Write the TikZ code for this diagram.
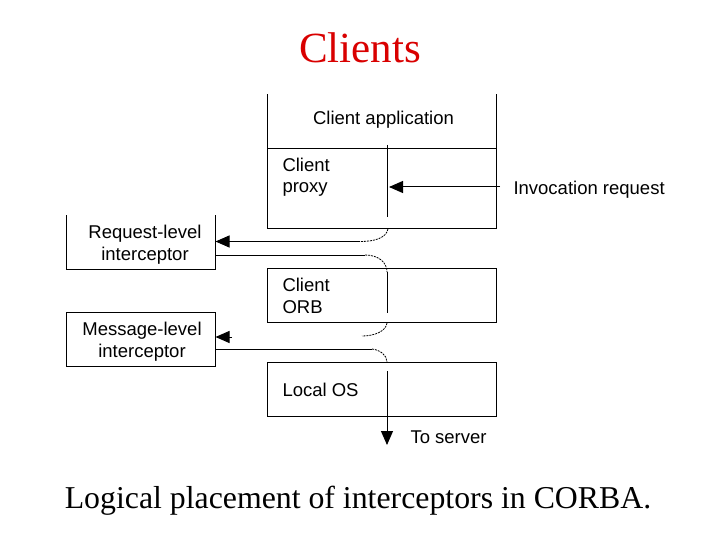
\documentclass[tikz,border=0pt]{standalone}
\usepackage{fontspec}
\setmainfont{Liberation Serif}
\newfontfamily\diagfont{Liberation Sans}
\usetikzlibrary{arrows.meta,calc}
\begin{document}
\begin{tikzpicture}[x=1pt,y=-1pt,
  line width=1pt,
  lbl/.style={font=\diagfont\fontsize{18.5}{21.5}\selectfont, inner sep=0pt},
  area/.style={draw=none, inner sep=0pt},
  boxline/.style={draw=black, line width=1pt},
  arr/.style={-{Triangle[length=14pt,width=12pt]}, line width=1pt},
  hop/.style={line width=0.8pt, dash pattern=on 2pt off 1pt}
]
\useasboundingbox (0,0) rectangle (720,540);
\fill[white] (0,0) rectangle (720,540);

% title and caption
\node[font=\fontsize{43}{50}\selectfont, text=red!85!black, anchor=base, inner sep=0pt] (title) at (360,63) {Clients};
\node[font=\fontsize{31.8}{38}\selectfont, anchor=base, inner sep=0pt] (caption) at (358,508) {Logical placement of interceptors in CORBA.};

% main column areas
\node[area, minimum width=228pt, minimum height=53pt] (app) at (382,121.5) {};
\node[area, minimum width=228pt, minimum height=80pt] (proxy) at (382,188) {};
\node[area, minimum width=228pt, minimum height=53pt] (orb) at (382,295.5) {};
\node[area, minimum width=228pt, minimum height=53pt] (os) at (382,389.5) {};
% interceptor areas
\node[area, minimum width=148pt, minimum height=53pt] (req) at (141,242.5) {};
\node[area, minimum width=148pt, minimum height=53pt] (msg) at (141,339.5) {};

% box outlines
\draw[boxline] (app.north west) -- (proxy.south west) -- (proxy.south east) -- (app.north east);
\draw[boxline] (app.south west) -- (app.south east);
\draw[boxline] (orb.south west) rectangle (orb.north east);
\draw[boxline] (os.south west) rectangle (os.north east);
\draw[boxline] (req.north west) -- (req.south west) -- (req.south east) -- (req.north east);
\draw[boxline] (msg.south west) rectangle (msg.north east);

% labels (multi-line nodes: base = baseline of last line)
\node[lbl, anchor=base] (tapp) at (383.5,124.5) {Client application};
\node[lbl, anchor=base west, align=left] (tproxy) at (282,193) {Client\\proxy};
\node[lbl, anchor=base, align=center] (treq) at (145,260) {Request-level\\interceptor};
\node[lbl, anchor=base west, align=left] (torb) at (282,313) {Client\\ORB};
\node[lbl, anchor=base, align=center] (tmsg) at (142,357) {Message-level\\interceptor};
\node[lbl, anchor=base west] (tos) at (282,396.5) {Local OS};
\node[lbl, anchor=base west] (tsrv) at (410,443.5) {To server};
\node[lbl, anchor=base west] (tinv) at (513,194.5) {Invocation request};

% coordinates of the invocation path
\coordinate (p1) at (387,145);
\coordinate (p2) at (387,217);
\coordinate (ptip) at (389,187);
\coordinate (inv0) at (500,187);
\coordinate (c1a) at (388,229);
\coordinate (c1b) at (360,241.5);
\coordinate (c2a) at (365,255);
\coordinate (c2b) at (387,272);
\coordinate (o2) at (387,313);
\coordinate (c3a) at (387,323);
\coordinate (c3b) at (362,336);
\coordinate (mhead) at (232,337);
\coordinate (c4a) at (372,349);
\coordinate (c4b) at (387,362);
\coordinate (s1) at (387,371);
\coordinate (s2) at (387,445);

% invocation request
\draw[arr] (inv0) -- (ptip);
\draw (p1) -- (p2);
% to request-level interceptor and back
\draw[hop] (c1a) .. controls (386,238) and (375,241.5) .. (c1b);
\draw[arr] (c1b) -- (req.east |- c1b);
\draw (req.east |- c2a) -- (c2a);
\draw[hop] (c2a) .. controls (378,255) and (387,262) .. (c2b);
\draw (c2b) -- (o2);
% to message-level interceptor and back
\draw[hop] (c3a) .. controls (386,331) and (375,336) .. (c3b);
\draw[arr] (mhead) -- (msg.east |- mhead);
\draw (msg.east |- c4a) -- (c4a);
\draw[hop] (c4a) .. controls (380,350) and (387,355) .. (c4b);
% to server
\draw[arr] (s1) -- (s2);
\end{tikzpicture}
\end{document}
